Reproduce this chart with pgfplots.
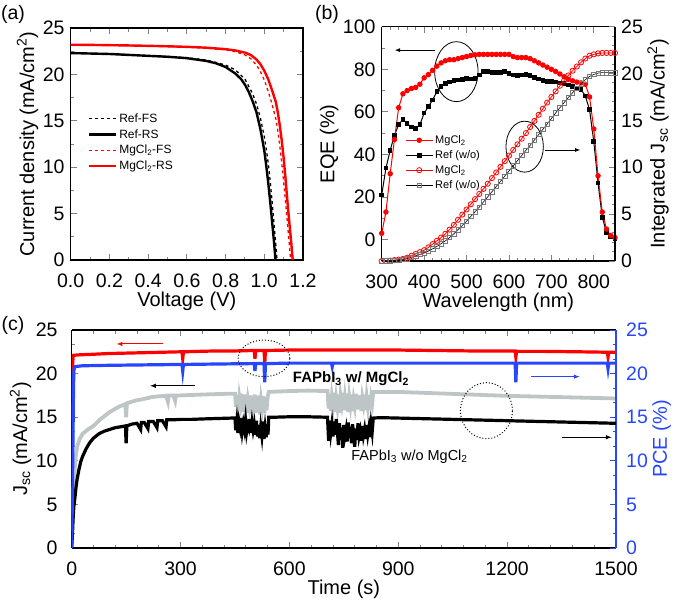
\documentclass[border=0pt]{standalone}
\usepackage{fontspec}
\setmainfont{Liberation Sans}
\usepackage{pgfplots}
\pgfplotsset{compat=1.18}
\definecolor{myred}{RGB}{255,0,0}
\definecolor{myblue}{RGB}{40,70,255}
\definecolor{mygrey}{RGB}{190,197,199}
\definecolor{sqgrey}{RGB}{120,120,120}
\pgfplotsset{
 base/.style={scale only axis, tick align=inside, axis line style={line width=1.1pt},
  major tick length=6pt, minor tick length=3.5pt,
  every tick/.append style={line width=0.9pt},
  tick label style={font=\fontsize{19.5}{19.5}\selectfont, inner sep=1pt},
  xticklabel style={yshift=-12.5pt},
  label style={font=\fontsize{20}{20}\selectfont},
  /pgf/number format/assume math mode=true,
  /pgf/number format/1000 sep={},
  legend cell align=left},
 mylegimg/.style={legend image code/.code={\draw[mark repeat=2,mark phase=2,##1] plot coordinates {(0pt,0pt) (13.5pt,0pt) (27pt,0pt)};}},
}
\begin{document}
\begin{tikzpicture}
\useasboundingbox (0pt,0pt) rectangle (682pt,-605pt);
\node[font=\fontsize{19.5}{19.5}\selectfont] at (13pt,-14pt) {(a)};
\node[font=\fontsize{19.5}{19.5}\selectfont] at (327pt,-14pt) {(b)};
\node[font=\fontsize{19.5}{19.5}\selectfont] at (13pt,-325pt) {(c)};
% ---------------- panel (a)
\begin{axis}[base, mylegimg, at={(70.7pt,-260pt)}, anchor=south west, width=232.3pt, height=232pt,
 xmin=0, xmax=1.2, ymin=0, ymax=25, xtick={0,0.2,0.4,0.6,0.8,1.0,1.2}, ytick={0,5,10,15,20,25},
 minor x tick num=1, minor y tick num=1, yticklabel style={xshift=-5pt},
 xticklabel style={/pgf/number format/fixed, /pgf/number format/fixed zerofill, /pgf/number format/precision=1},
 xlabel={Voltage (V)}, ylabel={Current density (mA/cm\textsuperscript{2})},
 legend style={at={(rel axis cs:0.073,0.64)}, anchor=north west, draw=none, fill=none,
   font=\fontsize{12}{13}\selectfont, row sep=1.5pt, inner sep=0pt}]
\addplot[black, dashed, line width=1.3pt] coordinates {
(0,22.3) (0.1,22.26) (0.2,22.2) (0.3,22.12) (0.4,22.03) (0.5,21.93) (0.6,21.8) (0.7,21.55) (0.75,21.3) (0.8,21.0) (0.85,20.5) (0.9,19.5) (0.94,17.9) (0.96,16.8) (0.98,15.3) (1.0,13.3) (1.01,12.0) (1.02,10.5) (1.03,8.6) (1.04,6.4) (1.05,4.0) (1.06,1.5) (1.066,0)};
\addlegendentry{Ref-FS}
\addplot[black, line width=2.4pt] coordinates {
(0,22.3) (0.1,22.25) (0.2,22.2) (0.3,22.1) (0.4,22.0) (0.5,21.9) (0.6,21.75) (0.7,21.45) (0.75,21.2) (0.8,20.8) (0.85,20.1) (0.88,19.5) (0.9,18.9) (0.92,18.1) (0.94,17.1) (0.96,15.9) (0.98,14.1) (1.0,11.8) (1.01,10.2) (1.02,8.4) (1.03,6.4) (1.04,4.2) (1.05,2.0) (1.058,0)};
\addlegendentry{Ref-RS}
\addplot[myred, dashed, line width=1.3pt] coordinates {
(0,23.2) (0.1,23.17) (0.2,23.14) (0.3,23.1) (0.4,23.05) (0.5,23.0) (0.6,22.93) (0.7,22.83) (0.8,22.65) (0.85,22.45) (0.9,22.1) (0.93,21.7) (0.96,21.0) (0.98,20.3) (1.0,19.4) (1.02,18.2) (1.04,16.8) (1.06,15.2) (1.07,13.9) (1.08,12.3) (1.09,10.5) (1.1,8.4) (1.11,6.2) (1.12,3.9) (1.13,1.5) (1.136,0)};
\addlegendentry{MgCl\textsubscript{2}-FS}
\addplot[myred, line width=2.4pt] coordinates {
(0,23.2) (0.1,23.18) (0.2,23.15) (0.3,23.12) (0.4,23.08) (0.5,23.03) (0.6,22.97) (0.7,22.88) (0.8,22.72) (0.85,22.58) (0.9,22.35) (0.93,22.1) (0.96,21.6) (0.98,21.1) (1.0,20.4) (1.02,19.5) (1.04,18.3) (1.06,17.0) (1.07,15.9) (1.08,14.5) (1.09,12.9) (1.1,11.0) (1.11,8.7) (1.12,6.2) (1.13,3.9) (1.14,1.7) (1.147,0)};
\addlegendentry{MgCl\textsubscript{2}-RS}
\end{axis}
% ---------------- panel (b) left
\begin{axis}[base, at={(381.7pt,-261pt)}, anchor=south west, width=233.3pt, height=234.3pt,
 axis y line*=left, xmin=300, xmax=850, ymin=-10, ymax=100, xtick={300,400,500,600,700,800},
 ytick={0,20,40,60,80,100}, minor x tick num=4, minor y tick num=1, yticklabel style={xshift=-5pt},
 xlabel={Wavelength (nm)}, ylabel={EQE (\%)}]
\addplot[black, line width=1pt, mark=square*, mark size=1.8pt] coordinates {
(300,21) (310,33.6) (320,42) (330,49) (340,54) (350,56.5) (360,54.5) (370,53) (380,52.3) (390,54) (400,59.4) (410,62.5) (420,65.6) (430,69.5) (440,72) (450,73.4) (460,74) (470,74.7) (480,75) (490,75.3) (500,75.6) (510,75.5) (520,75.6) (530,77.3) (540,78.9) (550,78.9) (560,78.6) (570,78.4) (580,78.6) (590,78.9) (600,78) (610,77.3) (620,77) (630,77.3) (640,77.5) (650,77) (660,76.2) (670,75.5) (680,74.7) (690,74.4) (700,74.2) (710,74) (720,73.6) (730,73.2) (740,72.7) (750,72) (760,71) (770,70.5) (780,67.5) (790,61) (800,46) (810,26.6) (820,10.5) (830,3.5) (840,1.5) (850,0.5)};
\addplot[myred, line width=1pt, mark=*, mark size=2.2pt] coordinates {
(300,3) (310,13) (320,31) (330,47) (340,62) (350,68.5) (360,70) (370,71) (380,71.5) (390,73) (400,76) (410,77.5) (420,79.5) (430,81.5) (440,83) (450,84) (460,84.5) (470,84.5) (480,85) (490,85.5) (500,86) (510,86.5) (520,86.8) (530,87) (540,87) (550,87) (560,87) (570,87) (580,87) (590,87) (600,87) (610,86) (620,85.5) (630,85.5) (640,85.5) (650,85) (660,84) (670,83) (680,82) (690,81) (700,80) (710,79) (720,77.8) (730,76.5) (740,75.3) (750,74.6) (760,74) (770,73.6) (780,73) (790,67) (800,52) (810,30) (820,13) (830,5) (840,2) (850,1)};
\draw[black, line width=0.8pt] (axis cs:476,78.9) ellipse [x radius=21.7pt, y radius=30pt];
\draw[black, line width=0.8pt, -latex] (axis cs:425,89) -- (axis cs:331,89);
\end{axis}
% ---------------- panel (b) right
\begin{axis}[base, mylegimg, at={(381.7pt,-261pt)}, anchor=south west, width=233.3pt, height=234.3pt,
 axis x line=none, axis y line*=right, xmin=300, xmax=850, ymin=0, ymax=25,
 ytick={0,5,10,15,20,25}, minor y tick num=4, yticklabel style={xshift=5pt},
 ylabel={Integrated J\textsubscript{sc} (mA/cm\textsuperscript{2})},
 legend style={at={(rel axis cs:0.10,0.545)}, anchor=north west, draw=none, fill=none,
   font=\fontsize{11}{12.5}\selectfont, row sep=1.5pt, inner sep=0pt}]
\addlegendimage{myred, line width=1pt, mark=*, mark size=2.2pt}
\addlegendentry{MgCl\textsubscript{2}}
\addlegendimage{black, line width=1pt, mark=square*, mark size=1.8pt}
\addlegendentry{Ref (w/o)}
\addplot[myred, line width=0.8pt, mark=o, mark size=2.6pt, mark options={fill=white}] coordinates {
(300,0) (310,0.02) (320,0.05) (330,0.1) (340,0.15) (350,0.22) (360,0.35) (370,0.55) (380,0.75) (390,0.95) (400,1.15) (410,1.45) (420,1.8) (430,2.15) (440,2.5) (450,2.9) (460,3.35) (470,3.85) (480,4.4) (490,4.95) (500,5.5) (510,6.05) (520,6.6) (530,7.15) (540,7.7) (550,8.25) (560,8.85) (570,9.45) (580,10.05) (590,10.65) (600,11.25) (610,11.85) (620,12.45) (630,13.05) (640,13.65) (650,14.3) (660,14.95) (670,15.6) (680,16.25) (690,16.9) (700,17.5) (710,18.1) (720,18.7) (730,19.25) (740,19.8) (750,20.3) (760,20.75) (770,21.2) (780,21.6) (790,21.9) (800,22.05) (810,22.15) (820,22.2) (830,22.2) (840,22.2) (850,22.2)};
\addlegendentry{MgCl\textsubscript{2}}
\addplot[black, line width=0.6pt, mark=square, mark size=2.2pt, mark options={draw=sqgrey, fill=white}] coordinates {
(300,0) (310,0.01) (320,0.03) (330,0.06) (340,0.1) (350,0.15) (360,0.25) (370,0.4) (380,0.55) (390,0.7) (400,0.85) (410,1.05) (420,1.3) (430,1.55) (440,1.85) (450,2.15) (460,2.5) (470,2.9) (480,3.35) (490,3.8) (500,4.25) (510,4.75) (520,5.25) (530,5.75) (540,6.3) (550,6.85) (560,7.4) (570,7.95) (580,8.5) (590,9.05) (600,9.6) (610,10.15) (620,10.7) (630,11.25) (640,11.8) (650,12.35) (660,12.9) (670,13.5) (680,14.05) (690,14.6) (700,15.2) (710,15.8) (720,16.35) (730,16.9) (740,17.45) (750,17.95) (760,18.45) (770,18.9) (780,19.35) (790,19.7) (800,19.9) (810,20.05) (820,20.1) (830,20.1) (840,20.1) (850,20.1)};
\addlegendentry{Ref (w/o)}
\draw[black, line width=0.8pt] (axis cs:637,12.2) ellipse [x radius=18.7pt, y radius=25.5pt];
\draw[black, line width=0.8pt, -latex] (axis cs:684,11.85) -- (axis cs:768,11.85);
\end{axis}
% ---------------- panel (c) left
\begin{axis}[base, at={(71.7pt,-548pt)}, anchor=south west, width=544.3pt, height=218pt,
 axis y line*=left, xmin=0, xmax=1500, ymin=0, ymax=25, xtick={0,300,600,900,1200,1500},
 ytick={0,5,10,15,20,25}, minor x tick num=4, minor y tick num=2,
 yticklabel style={xshift=-13pt},
 xlabel={Time (s)}, ylabel={J\textsubscript{sc} (mA/cm\textsuperscript{2})}]
\addplot[mygrey, line width=3.8pt] coordinates {
(0,2) (3,5) (6,7.5) (9,9.5) (12,10.8) (16,11.8) (23,12.6) (30,13.1) (45,13.6) (60,14.0) (80,14.8) (105,15.6) (130,16.2) (148,16.5) (150,15.0) (152,16.6) (175,16.9) (200,17.1) (220,17.3) (240,17.4) (260,17.45) (265,16.8) (267,17.5) (280,17.5) (285,16.9) (287,17.5) (300,17.5) (330,17.55) (360,17.6) (400,17.65) (440,17.7)
(450,17.7) (453,16.2) (456,17.5) (459,15.8) (462,17.3) (465,16.5) (468,17.7) (471,15.6) (474,17.2) (477,16.0) (480,17.6) (483,15.5) (486,17.0) (489,16.3) (492,17.5) (495,15.4) (498,17.1) (501,16.1) (504,17.6) (507,15.5) (510,17.3) (513,15.9) (516,17.5) (519,15.3) (522,17.0) (525,16.2) (528,17.4) (531,15.5) (534,17.2) (537,15.8) (540,17.3) (543,17.9) (600,18.0) (650,18.05) (700,18.0)
(705,18.0) (708,16.0) (711,17.6) (714,15.7) (717,17.3) (720,16.4) (723,17.8) (726,15.6) (729,17.1) (732,16.2) (735,17.6) (738,15.5) (741,17.4) (744,16.6) (747,17.8) (750,15.8) (753,17.2) (756,16.1) (759,17.7) (762,15.6) (765,17.3) (768,16.4) (771,17.6) (774,15.7) (777,17.0) (780,16.3) (783,17.7) (786,15.9) (789,17.4) (792,16.2) (795,17.5) (798,15.7) (801,17.2) (804,16.5) (807,17.6) (810,15.8) (813,17.3) (816,16.3) (819,17.5) (822,15.9) (825,17.2) (828,16.6) (831,17.9) (900,17.9) (1000,17.75) (1100,17.6) (1200,17.45) (1300,17.35) (1400,17.25) (1500,17.15)};
\addplot[myred, line width=3.2pt] coordinates {
(1,14.7) (3,21.7) (5,22.1) (20,22.15) (50,22.2) (100,22.3) (150,22.35) (200,22.4) (250,22.45) (300,22.5) (304,22.5) (306,21.7) (308,22.5) (350,22.55) (400,22.6) (450,22.6) (503,22.65) (505,21.7) (507,22.65) (530,22.65) (532,21.2) (534,22.65) (600,22.7) (700,22.7) (800,22.7) (900,22.7) (1000,22.65) (1100,22.6) (1222,22.6) (1224,21.9) (1226,22.55) (1300,22.55) (1400,22.5) (1476,22.45) (1478,21.9) (1480,22.45) (1500,22.45)};
\end{axis}
% ---------------- panel (c) right
\begin{axis}[base, at={(71.7pt,-548pt)}, anchor=south west, width=544.3pt, height=218pt,
 axis x line=none, axis y line*=right, xmin=0, xmax=1500, ymin=0, ymax=25,
 ytick={0,5,10,15,20,25}, minor y tick num=2,
 y axis line style={myblue, line width=1.6pt}, ytick style={myblue}, yticklabel style={myblue, xshift=9pt},
 ylabel={PCE (\%)}, ylabel style={myblue}]
\addplot[black, line width=3.2pt] coordinates {
(0,0) (2,1.5) (4,3.5) (6,4.8) (9,5.8) (12,7) (15,7.9) (20,9) (25,9.9) (30,10.5) (40,11.4) (50,12.1) (60,12.6) (75,13.1) (90,13.4) (105,13.6) (120,13.8) (135,13.9) (148,14.0) (150,12.0) (152,14.0) (165,14.2) (180,14.3) (190,13.6) (192,14.4) (200,14.4) (210,13.7) (212,14.5) (225,14.5) (235,13.8) (237,14.6) (250,14.6) (260,13.9) (262,14.7) (280,14.7) (300,14.75) (330,14.75) (360,14.8) (400,14.85) (440,14.9)
(450,14.9) (452,13.5) (455,14.6) (458,13.2) (461,14.5) (464,13.8) (467,14.9) (470,13.4) (473,14.3) (476,13.6) (479,14.7) (482,13.3) (485,14.1) (488,13.7) (491,14.8) (494,13.2) (497,14.4) (500,13.5) (503,14.2) (506,13.0) (509,14.6) (512,12.8) (515,14.1) (518,12.6) (521,13.9) (524,12.9) (527,14.5) (530,12.5) (533,13.8) (536,12.7) (539,14.2) (541,13.0) (543,15.0) (560,15.0) (600,15.05) (650,15.05) (700,15.0)
(705,15.0) (708,12.3) (711,14.6) (714,13.2) (717,14.2) (720,12.8) (723,14.5) (726,13.0) (729,14.8) (732,13.5) (735,11.8) (738,14.3) (741,12.5) (744,13.8) (747,11.5) (750,14.1) (753,12.9) (756,13.6) (759,12.2) (762,14.4) (765,12.6) (768,13.9) (771,12.0) (774,14.2) (777,13.1) (780,11.6) (783,13.7) (786,12.4) (789,14.3) (792,12.8) (795,13.4) (798,12.3) (801,14.0) (804,12.9) (807,13.6) (810,12.5) (813,14.1) (816,13.0) (819,13.8) (822,12.7) (825,14.2) (828,13.3) (831,14.9) (850,14.95) (900,14.9) (950,14.85) (1000,14.8) (1050,14.75) (1100,14.7) (1150,14.65) (1200,14.6) (1250,14.55) (1300,14.5) (1350,14.45) (1400,14.4) (1450,14.35) (1500,14.3)};
\addplot[myblue, line width=3.2pt] coordinates {
(0,0) (1,3) (2,7) (3,10.5) (4,14.5) (5,18.5) (6,20.3) (8,20.8) (30,20.9) (100,20.95) (200,21.0) (304,21.05) (306,20.3) (308,21.05) (400,21.1) (503,21.15) (505,20.3) (507,21.15) (530,21.15) (532,19.0) (534,21.15) (600,21.2) (716,21.2) (718,20.8) (720,21.2) (800,21.2) (1000,21.2) (1222,21.2) (1224,19.0) (1226,21.2) (1400,21.2) (1476,21.2) (1478,20.6) (1480,21.2) (1500,21.2)};
\draw[black, line width=1pt, dotted] (axis cs:530,21.75) ellipse [x radius=25.8pt, y radius=18.3pt];
\draw[black, line width=1pt, dotted] (axis cs:1143,15.75) ellipse [x radius=26pt, y radius=28pt];
\draw[myred, line width=1pt, -latex] (axis cs:252,23.4) -- (axis cs:124,23.4);
\draw[black, line width=1pt, -latex] (axis cs:340,18.6) -- (axis cs:216,18.6);
\draw[myblue, line width=1pt, -latex] (axis cs:1267,19.65) -- (axis cs:1400,19.65);
\draw[black, line width=1pt, -latex] (axis cs:1350,12.7) -- (axis cs:1488,12.7);
\node[anchor=west, font=\bfseries\fontsize{15}{15}\selectfont] at (axis cs:600,19.4) {FAPbI\textsubscript{3} w/ MgCl\textsubscript{2}};
\node[anchor=west, font=\fontsize{14.5}{15}\selectfont] at (axis cs:761,10.5) {FAPbI\textsubscript{3} w/o MgCl\textsubscript{2}};
\end{axis}
\end{tikzpicture}
\end{document}
